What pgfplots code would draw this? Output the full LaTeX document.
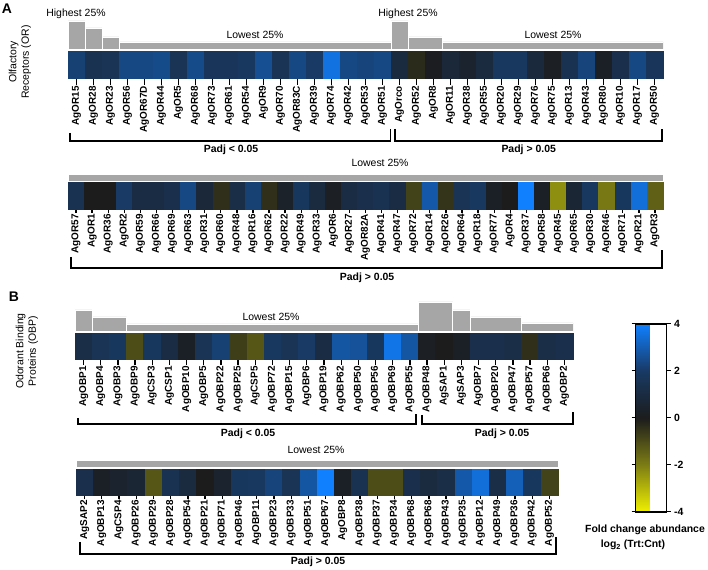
\documentclass[border=0pt]{standalone}
\usepackage{fontspec}
\setmainfont{Liberation Sans}
\usepackage{pgfplots}
\usepackage{pgfplotstable}
\pgfplotsset{compat=1.18}

\definecolor{barGrey}{RGB}{166,166,166}
\newcommand\labfont{\fontsize{10}{12}\selectfont\bfseries}
\newcommand\txtfont{\fontsize{10.5}{12.5}\selectfont}

\pgfplotsset{
  colormap={fc}{rgb255=(240,240,0) rgb255=(125,125,20) rgb255=(28,28,28) rgb255=(24,58,100) rgb255=(16,128,255)},
  heatrow/.style={
    scale only axis, enlargelimits=false, clip=false,
    axis line style={draw=none},
    ytick=\empty, xtick=data, xtick pos=left,
    tick align=outside, major tick length=6bp,
    xtick style={draw=black, line width=1.3pt},
    xticklabel style={rotate=90, anchor=east, font=\labfont, inner sep=1pt},
    colormap name=fc, point meta min=-4, point meta max=4,
  },
  heatcells/.style={only marks, mark=square*, scatter, point meta=\thisrow{v},
    scatter/use mapped color={draw=mapped color, fill=mapped color}},
  greyrow/.style={scale only axis, hide axis, enlargelimits=false, ymin=0, ymax=30, height=30bp},
  greybar/.style={ybar interval, fill=barGrey, draw=white, line width=0.8pt, point meta=none},
}
\tikzset{
  br/.style={line width=1.5pt, black},
  pv/.style={font=\labfont\fontsize{10.5}{12}\selectfont},
}

% log2 fold change (Trt:Cnt)
\pgfplotstableread{
x name v
0 AgOR15 2.2
1 AgOR28 1.5
2 AgOR23 1.6
3 AgOR56 2.4
4 AgOR67D 2.4
5 AgOR44 2.5
6 AgOR5 1.6
7 AgOR68 2.5
8 AgOR73 1.7
9 AgOR61 1.7
10 AgOR54 1.9
11 AgOR9 2.6
12 AgOR70 1.6
13 AgOR83C 2.4
14 AgOR39 2.0
15 AgOR74 3.6
16 AgOR42 2.4
17 AgOR53 2.3
18 AgOR51 2.4
19 AgOrco 1.0
20 AgOR52 -0.3
21 AgOR8 0.1
22 AgOR11 0.8
23 AgOR38 0.5
24 AgOR55 1.0
25 AgOR20 1.9
26 AgOR29 1.9
27 AgOR76 0.9
28 AgOR75 0.2
29 AgOR13 1.5
30 AgOR43 2.3
31 AgOR80 0.3
32 AgOR10 1.3
33 AgOR17 2.4
34 AgOR50 1.7
}\orA

\pgfplotstableread{
x name v
0 AgOR57 1.5
1 AgOR1 0.0
2 AgOR36 0.0
3 AgOR2 2.0
4 AgOR59 1.1
5 AgOR66 1.1
6 AgOR69 1.3
7 AgOR63 2.4
8 AgOR31 0.8
9 AgOR60 -0.4
10 AgOR48 1.2
11 AgOR16 2.2
12 AgOR62 -0.4
13 AgOR22 0.4
14 AgOR49 1.8
15 AgOR33 1.0
16 AgOR6 0.2
17 AgOR27 1.1
18 AgOR82A 1.3
19 AgOR41 1.5
20 AgOR47 1.1
21 AgOR72 -0.8
22 AgOR14 2.9
23 AgOR26 -0.5
24 AgOR64 1.6
25 AgOR18 1.9
26 AgOR77 0.3
27 AgOR4 0.0
28 AgOR37 4.0
29 AgOR58 0.3
30 AgOR45 -2.3
31 AgOR65 0.7
32 AgOR30 1.9
33 AgOR46 -1.9
34 AgOR71 1.8
35 AgOR21 3.5
36 AgOR3 -1.4
}\orB

\pgfplotstableread{
x name v
0 AgOBP1 1.2
1 AgOBP4 1.6
2 AgOBP3 1.8
3 AgOBP9 -1.0
4 AgCSP3 1.8
5 AgCSP1 1.1
6 AgOBP10 0.3
7 AgOBP5 1.6
8 AgOBP22 2.2
9 AgOBP25 -0.7
10 AgCSP5 -1.2
11 AgOBP72 1.9
12 AgOBP15 1.6
13 AgOBP6 2.0
14 AgOBP19 1.1
15 AgOBP62 2.8
16 AgOBP50 2.7
17 AgOBP56 1.8
18 AgOBP69 3.7
19 AgOBP55 2.8
20 AgOBP48 0.2
21 AgSAP1 0.0
22 AgSAP3 0.3
23 AgOBP7 1.3
24 AgOBP20 1.3
25 AgOBP47 1.2
26 AgOBP57 -0.4
27 AgOBP66 1.2
28 AgOBP2 1.3
}\obpA

\pgfplotstableread{
x name v
0 AgSAP2 1.3
1 AgOBP13 0.3
2 AgCSP4 0.5
3 AgOBP26 0.7
4 AgOBP29 -1.2
5 AgOBP28 1.5
6 AgOBP54 1.0
7 AgOBP21 0.0
8 AgOBP71 0.5
9 AgOBP46 1.8
10 AgOBP11 1.9
11 AgOBP23 2.3
12 AgOBP33 1.6
13 AgOBP51 2.8
14 AgOBP67 4.0
15 AgOBP8 0.3
16 AgOBP38 1.5
17 AgOBP37 -1.0
18 AgOBP34 -1.0
19 AgOBP68 1.3
20 AgOBP68 1.0
21 AgOBP43 1.2
22 AgOBP35 2.9
23 AgOBP12 3.5
24 AgOBP49 1.2
25 AgOBP36 3.1
26 AgOBP42 1.8
27 AgOBP52 -0.8
}\obpB

\begin{document}
\begin{tikzpicture}
\path[use as bounding box] (0,0) rectangle (708bp,570bp);

% ---------- A, first row ----------
\begin{axis}[greyrow, at={(68bp,521bp)}, anchor=south west, width=595bp, xmin=0, xmax=35]
\addplot[greybar] coordinates {(0,28) (1,21) (2,12) (3,7) (19,28) (20,12) (22,7) (35,7)};
\end{axis}
\begin{axis}[heatrow, at={(68bp,492bp)}, anchor=south west, width=595bp, height=27bp,
  xmin=-0.5, xmax=34.5, ymin=0, ymax=27, major tick length=7bp,
  xticklabels from table={\orA}{name}]
\addplot[heatcells, mark size=8.5bp, mark options={yscale=1.588}] table[x=x, y expr=13.5] {\orA};
\draw[red, line width=1.6pt] (axis cs:18.55,0.8) rectangle (axis cs:19.45,26.2);
\draw[br] (axis cs:-0.38,-55) |- (axis cs:18.48,-63) -- (axis cs:18.48,-51);
\draw[br] (axis cs:18.74,-51) |- (axis cs:34.44,-63) -- (axis cs:34.44,-51);
\node[pv] at (axis cs:9.09,-72) {Padj < 0.05};
\node[pv] at (axis cs:26.6,-72) {Padj > 0.05};
\end{axis}

% ---------- A, second row ----------
\begin{axis}[greyrow, at={(68bp,389bp)}, anchor=south west, width=595bp, xmin=0, xmax=37]
\addplot[greybar] coordinates {(0,7) (37,7)};
\end{axis}
\begin{axis}[heatrow, at={(68bp,361bp)}, anchor=south west, width=595bp, height=27bp,
  xmin=-0.5, xmax=36.5, ymin=0, ymax=27, major tick length=4bp,
  xticklabels from table={\orB}{name}]
\addplot[heatcells, mark size=8.04bp, mark options={yscale=1.679}] table[x=x, y expr=13.5] {\orB};
\draw[br] (axis cs:-0.31,-48) |- (axis cs:36.44,-59) -- (axis cs:36.44,-41);
\node[pv] at (axis cs:18.1,-69) {Padj > 0.05};
\end{axis}

% ---------- B, first row ----------
\begin{axis}[greyrow, at={(75bp,239bp)}, anchor=south west, width=498bp, xmin=0, xmax=29]
\addplot[greybar] coordinates {(0,21) (1,14) (3,7) (20,29) (22,21) (23,14) (26,8) (29,8)};
\end{axis}
\begin{axis}[heatrow, at={(75bp,211bp)}, anchor=south west, width=498bp, height=26bp,
  xmin=-0.5, xmax=28.5, ymin=0, ymax=26,
  xticklabels from table={\obpA}{name}]
\addplot[heatcells, mark size=8.585bp, mark options={yscale=1.514}] table[x=x, y expr=13] {\obpA};
\draw[br] (axis cs:-0.33,-59) |- (axis cs:19.36,-65) -- (axis cs:19.36,-55);
\draw[br] (axis cs:19.71,-56) |- (axis cs:28.5,-65) -- (axis cs:28.5,-53);
\node[pv] at (axis cs:9.58,-75) {Padj < 0.05};
\node[pv] at (axis cs:24.37,-75) {Padj > 0.05};
\end{axis}

% ---------- B, second row ----------
\begin{axis}[greyrow, at={(76bp,103bp)}, anchor=south west, width=482bp, xmin=0, xmax=28]
\addplot[greybar] coordinates {(0,7) (28,7)};
\end{axis}
\begin{axis}[heatrow, at={(76bp,75bp)}, anchor=south west, width=482bp, height=26bp,
  xmin=-0.5, xmax=27.5, ymin=0, ymax=26, major tick length=4bp,
  xticklabels from table={\obpB}{name}]
\addplot[heatcells, mark size=8.6bp, mark options={yscale=1.511}] table[x=x, y expr=13] {\obpB};
\draw[br] (axis cs:-0.27,-47) |- (axis cs:27.39,-59) -- (axis cs:27.39,-42);
\node[pv] at (axis cs:13.56,-67) {Padj > 0.05};
\end{axis}

% ---------- colour bar ----------
\begin{axis}[at={(627bp,246bp)}, anchor=north west, scale only axis, width=31bp, height=188bp,
  hide axis, xmin=0, xmax=1, ymin=0, ymax=1,
  colormap name=fc, point meta min=-4, point meta max=4, colorbar,
  colorbar style={at={(parent axis.north west)}, anchor=north west, xshift=0pt,
    scale only axis, width=31bp, height=188bp,
    ytick={-4,-2,0,2,4}, axis line style={line width=1.2pt},
    tick style={black, line width=1pt}, major tick length=4bp, tick align=outside,
    yticklabel style={font=\labfont\fontsize{10.5}{12}\selectfont},
    /pgf/number format/assume math mode=true}]
\addplot[draw=none, point meta=none] coordinates {(0,0) (1,1)};
\end{axis}

% ---------- texts ----------
\node[font=\bfseries\fontsize{14}{16}\selectfont] at (7bp,561bp) {A};
\node[font=\bfseries\fontsize{14}{16}\selectfont] at (14bp,273bp) {B};
\node[font=\txtfont, rotate=90, align=center] at (20bp,508bp) {Olfactory\\Receptors (OR)};
\node[font=\txtfont, rotate=90, align=center] at (27bp,219bp) {Odorant Binding\\Proteins (OBP)};
\node[font=\txtfont] at (76bp,556bp) {Highest 25\%};
\node[font=\txtfont] at (408bp,556bp) {Highest 25\%};
\node[font=\txtfont] at (255bp,535bp) {Lowest 25\%};
\node[font=\txtfont] at (553bp,535bp) {Lowest 25\%};
\node[font=\txtfont] at (380bp,407bp) {Lowest 25\%};
\node[font=\txtfont] at (271bp,253bp) {Lowest 25\%};
\node[font=\txtfont] at (316bp,120bp) {Lowest 25\%};
\node[font=\labfont\fontsize{10.5}{12}\selectfont] at (645bp,40bp) {Fold change abundance};
\node[font=\labfont\fontsize{10.5}{12}\selectfont] at (633bp,25bp) {log\textsubscript{2} (Trt:Cnt)};
\end{tikzpicture}
\end{document}
